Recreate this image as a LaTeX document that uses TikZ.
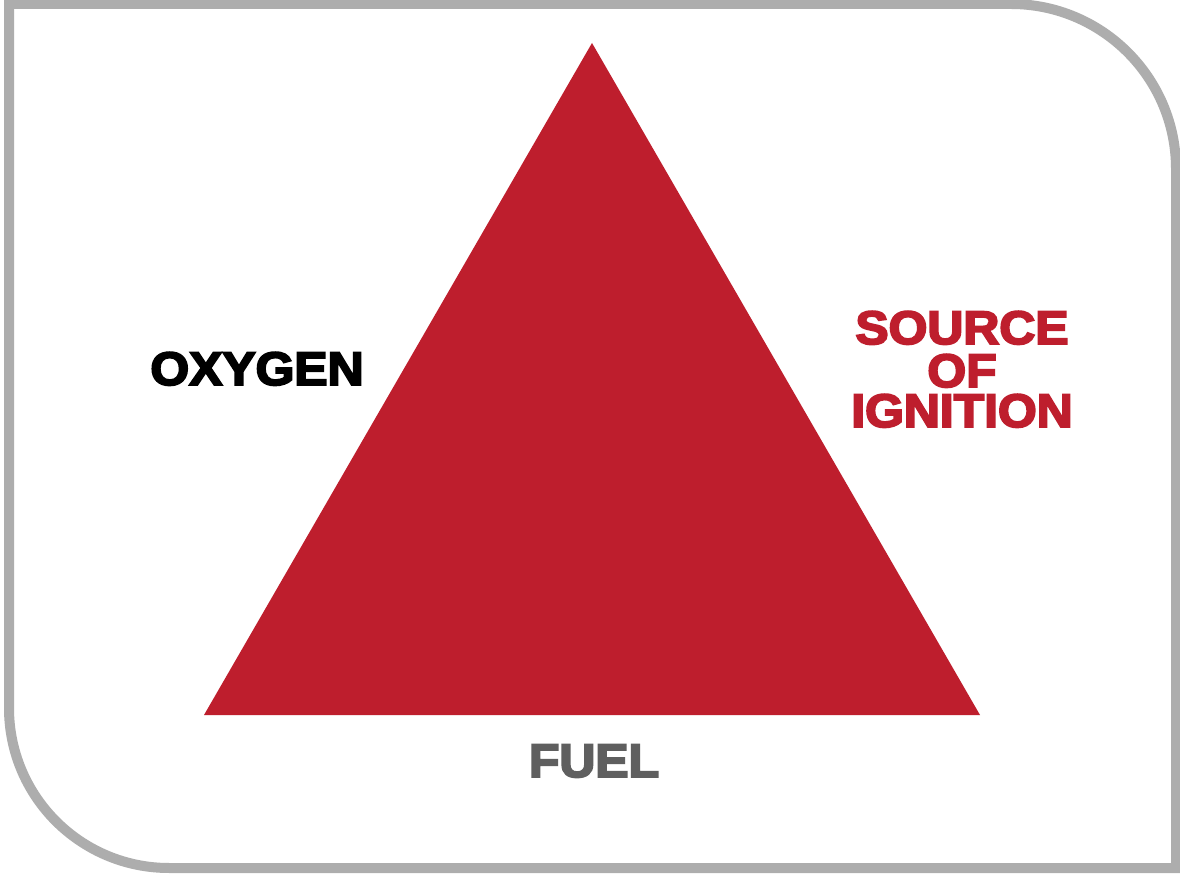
\documentclass[tikz,border=0pt]{standalone}
\usepackage{fontspec}
\newfontfamily\heavy[FakeBold=4]{Liberation Sans Bold}
\definecolor{firered}{HTML}{BE1E2D}
\definecolor{framegray}{HTML}{ADADAD}
\definecolor{fuelgray}{HTML}{5F5F5F}
\tikzset{
  label/.style={font=\heavy\fontsize{47}{41}\selectfont, inner sep=0pt,
    text height=34pt, text depth=0pt, anchor=center, xscale=1.06, transform shape},
}
\begin{document}
\begin{tikzpicture}[x=1pt,y=1pt]
\useasboundingbox (0,0) rectangle (1180,873);
\fill[white] (0,0) rectangle (1180,873);
\draw[framegray, line width=10pt, line join=miter]
  (9,869) -- (1011,869) arc[start angle=90, end angle=0, radius=165]
  -- (1176,5) -- (169,5) arc[start angle=270, end angle=180, radius=160]
  -- cycle;
\fill[firered] (592,830) -- (204,158) -- (980,158) -- cycle;
\node[label, text=black] (oxygen) at (257,505) {OXYGEN};
\node[label, text=firered] (source) at (962,546) {SOURCE};
\node[label, text=firered] (of) at (962,503) {OF};
\node[label, text=firered] (ignition) at (962,463) {IGNITION};
\node[label, text=fuelgray] (fuel) at (594,113) {FUEL};
\end{tikzpicture}
\end{document}
